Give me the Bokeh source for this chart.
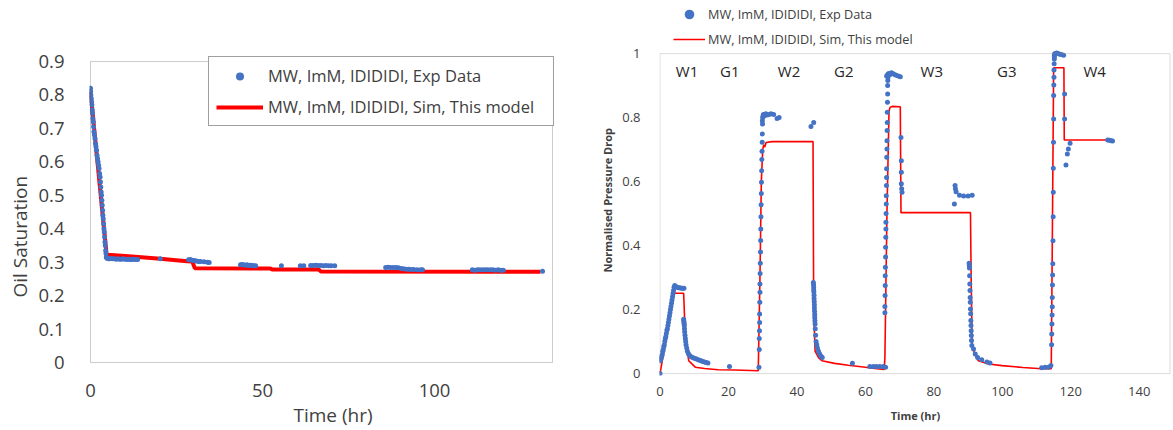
from bokeh.plotting import figure
from bokeh.layouts import row
from bokeh.models import Range1d, FixedTicker, Legend, LegendItem, BoxAnnotation, Title
from bokeh.core.properties import value
from bokeh.embed import file_html
from bokeh.resources import INLINE

# ---------------- Left panel: oil saturation ----------------
left_exp_t = [0, 0.05, 0.1, 0.2, 0.3, 0.4, 0.5, 0.6, 0.7, 0.8, 0.9, 1.0, 1.15, 1.3, 1.45, 1.6, 1.75,
              1.9, 2.05, 2.2, 2.35, 2.5, 2.65, 2.8, 2.9, 3.0, 3.1, 3.2, 3.3, 3.4, 3.5, 3.6, 3.7, 3.8,
              3.9, 4.0, 4.1, 4.2, 4.3, 4.4, 4.5, 4.6,
              4.8, 5.2, 5.6, 6.0, 6.5, 7.0, 7.5, 8.0, 8.5, 9.0, 9.5, 10, 10.5, 11, 11.5, 12, 12.5, 13, 13.7,
              20.3,
              28.5, 29, 29.5, 30, 30.5, 31, 31.5, 32, 33, 34, 34.5,
              43.6, 44, 44.5, 45, 45.5, 46, 46.5, 47, 47.5, 48,
              55.5,
              61, 62, 64, 64.7, 65.5, 66.2, 67, 67.8, 68.5, 69.3, 70, 71,
              85.8, 86.5, 87.2, 88, 88.8, 89.5, 90.3, 91, 91.8, 92.5, 93.3, 94, 95, 96, 96.5,
              111, 111.8, 112.5, 113.2, 114, 114.8, 115.5, 116.3, 117, 117.8, 118.5, 119.3, 120,
              131.4]
left_exp_s = [0.82, 0.81, 0.80, 0.79, 0.78, 0.77, 0.755, 0.745, 0.73, 0.72, 0.705, 0.69, 0.68, 0.67, 0.655,
              0.645, 0.635, 0.62, 0.61, 0.60, 0.59, 0.58, 0.565, 0.555, 0.54, 0.525, 0.51, 0.50, 0.485,
              0.47, 0.455, 0.44, 0.43, 0.415, 0.40, 0.39, 0.375, 0.36, 0.35, 0.335, 0.325, 0.315,
              0.312, 0.31, 0.31, 0.311, 0.31, 0.31, 0.309, 0.31, 0.309, 0.309, 0.31, 0.309, 0.308, 0.309,
              0.308, 0.308, 0.309, 0.308, 0.308,
              0.31,
              0.307, 0.308, 0.306, 0.305, 0.304, 0.303, 0.302, 0.302, 0.301, 0.300, 0.299,
              0.292, 0.293, 0.292, 0.291, 0.292, 0.29, 0.291, 0.29, 0.289, 0.289,
              0.289,
              0.289, 0.289, 0.29, 0.29, 0.291, 0.29, 0.29, 0.289, 0.29, 0.289, 0.289, 0.289,
              0.284, 0.285, 0.284, 0.284, 0.284, 0.283, 0.281, 0.28, 0.279, 0.279, 0.278, 0.278, 0.277,
              0.277, 0.277,
              0.277, 0.276, 0.277, 0.277, 0.277, 0.277, 0.277, 0.277, 0.277, 0.276, 0.277, 0.276, 0.276,
              0.273]
left_sim_t = [0, 4.7, 5.0, 12, 19.4, 28.1, 29.6, 30.3, 52.3, 52.8, 66.3, 67.0, 130.8]
left_sim_s = [0.81, 0.32, 0.322, 0.317, 0.311, 0.303, 0.302, 0.282, 0.281, 0.278, 0.278, 0.272, 0.271]
left_yticks = [0, 0.1, 0.2, 0.3, 0.4, 0.5, 0.6, 0.7, 0.8, 0.9]
left_xticks = [0, 50, 100]
left_xmax = 134.3
left_ymax = 0.9

# ---------------- Right panel: normalised pressure drop ----------------
right_exp_t = [0, 0.1, 0.2, 0.35, 0.5, 0.65, 0.8, 0.95, 1.1, 1.25, 1.4, 1.55, 1.7, 1.85, 2.0, 2.15, 2.3,
               2.45, 2.6, 2.75, 2.9, 3.05, 3.2, 3.35, 3.5, 3.65, 3.8, 3.95, 4.1,
               4.3, 4.6, 5.0, 5.4, 5.8, 6.2, 6.6, 7.0,
               6.9, 6.95, 7.0, 7.05, 7.1, 7.15, 7.2, 7.3, 7.4, 7.5, 7.6, 7.8, 8.0, 8.3, 8.6, 9.0, 9.5,
               10, 10.5, 11, 11.5, 12, 12.5, 13, 13.5, 14,
               20.3,
               28.9, 29.0, 29.0, 29.05, 29.1, 29.1, 29.15, 29.2, 29.2, 29.25, 29.3, 29.35, 29.4, 29.45,
               29.5, 29.55, 29.6, 29.65, 29.7, 29.75, 29.8, 29.85, 29.9, 29.95,
               29.9, 30.0, 30.1, 30.2, 30.4, 30.6, 30.9, 31.3, 31.8, 32.4, 33.2, 34.2, 34.8,
               44.1, 44.9,
               44.8, 44.85, 44.9, 44.9, 44.95, 45.0, 45.0, 45.05, 45.1, 45.1, 45.15, 45.2, 45.2, 45.25,
               45.3, 45.35, 45.45, 45.6, 45.8, 46.0, 46.3, 46.6, 47.0, 47.4,
               56.2,
               61.3, 62.3, 63.2, 64.2, 65.2, 65.9,
               65.7, 65.7, 65.75, 65.8, 65.8, 65.85, 65.9, 65.9, 65.95, 66.0, 66.0, 66.05, 66.1, 66.1,
               66.15, 66.2, 66.2, 66.25, 66.3, 66.3, 66.35, 66.4, 66.4, 66.45, 66.5, 66.5, 66.55, 66.6,
               66.2, 66.5, 66.8, 67.2, 67.6, 68.0, 68.5, 69.0, 69.6, 70.2,
               70.4, 70.5, 70.5, 70.5, 70.6, 70.7,
               86.0, 86.2, 86.3, 86.5, 87.5, 88.7, 90.0, 91.2,
               90.3, 90.35, 90.4, 90.45, 90.5, 90.55, 90.6, 90.65, 90.7, 90.75, 90.8, 90.85, 90.9,
               90.95, 91.0, 91.1, 91.6, 92.1, 92.8, 94.0, 95.5, 96.4,
               111.5, 112.5, 113.5, 114.2,
               114.4, 114.45, 114.5, 114.55, 114.6, 114.6, 114.65, 114.7, 114.75, 114.8, 114.85,
               114.9, 114.9, 114.95, 115.0, 115.0, 115.05, 115.1, 115.1, 115.15, 115.2, 115.2, 115.25,
               115.2, 115.5, 115.9, 116.3, 116.8, 117.3, 117.9,
               118.2, 118.2, 119.8, 119.3, 119.0, 118.6,
               130.8, 131.3, 131.8, 132.2]
right_exp_v = [0.0, 0.04, 0.045, 0.05, 0.055, 0.06, 0.07, 0.075, 0.085, 0.09, 0.1, 0.11, 0.115, 0.125,
               0.135, 0.14, 0.15, 0.16, 0.17, 0.18, 0.19, 0.2, 0.21, 0.22, 0.23, 0.24, 0.25, 0.26, 0.27,
               0.275, 0.272, 0.27, 0.268, 0.268, 0.267, 0.267, 0.267,
               0.17, 0.165, 0.16, 0.155, 0.15, 0.14, 0.13, 0.12, 0.11, 0.1, 0.09, 0.08, 0.07, 0.062,
               0.057, 0.053, 0.05, 0.048, 0.046, 0.044, 0.042, 0.04, 0.038, 0.036, 0.035, 0.033,
               0.022,
               0.02, 0.075, 0.11, 0.134, 0.16, 0.186, 0.223, 0.254, 0.28, 0.313, 0.345, 0.38, 0.416,
               0.452, 0.49, 0.528, 0.563, 0.598, 0.634, 0.669, 0.695, 0.723, 0.749, 0.78,
               0.79, 0.80, 0.805, 0.81, 0.805, 0.81, 0.812, 0.808, 0.81, 0.812, 0.81, 0.797, 0.80,
               0.772, 0.785,
               0.285, 0.278, 0.27, 0.262, 0.255, 0.245, 0.235, 0.225, 0.215, 0.205, 0.195, 0.185,
               0.175, 0.165, 0.155, 0.14, 0.12, 0.1, 0.09, 0.08, 0.07, 0.062, 0.055, 0.05,
               0.032,
               0.022, 0.022, 0.022, 0.022, 0.022, 0.02,
               0.19, 0.21, 0.244, 0.275, 0.306, 0.332, 0.364, 0.395, 0.426, 0.452, 0.473, 0.5, 0.53,
               0.556, 0.588, 0.613, 0.64, 0.676, 0.702, 0.728, 0.76, 0.785, 0.817, 0.848, 0.874, 0.9,
               0.916, 0.926,
               0.93, 0.935, 0.938, 0.935, 0.94, 0.938, 0.935, 0.932, 0.93, 0.928,
               0.738, 0.665, 0.629, 0.593, 0.578, 0.567,
               0.53, 0.588, 0.578, 0.568, 0.557, 0.555, 0.555, 0.557,
               0.345, 0.338, 0.33, 0.306, 0.28, 0.26, 0.238, 0.223, 0.202, 0.187, 0.166, 0.15, 0.134,
               0.119, 0.103, 0.088, 0.077, 0.061, 0.05, 0.043, 0.036, 0.033,
               0.018, 0.02, 0.02, 0.025,
               0.09, 0.124, 0.155, 0.183, 0.209, 0.238, 0.277, 0.308, 0.343, 0.415, 0.49, 0.567, 0.642,
               0.723, 0.796, 0.869, 0.902, 0.926, 0.949, 0.968, 0.983, 0.994, 0.999,
               0.99, 1.0, 1.002, 1.0, 0.998, 0.997, 0.995,
               0.874, 0.796, 0.72, 0.702, 0.686, 0.652,
               0.73, 0.729, 0.728, 0.727]
right_sim_t = [0, 4.1, 4.3, 6.9, 7.4, 8.4, 10.3, 13, 17, 22, 28.7, 29.2, 29.6, 30.0, 30.3, 30.6, 31.0,
               32.7, 44.7, 44.9, 45.3, 46.3, 47.3, 51, 55, 60, 63.4, 65.5, 65.7, 66.3, 66.9, 67.2, 67.8,
               70.2, 70.4, 90.7, 90.9, 91.2, 91.8, 93, 96, 99.9, 106, 111.5, 114.3, 114.6, 115.0,
               118.0, 118.1, 131.5]
right_sim_v = [0, 0.249, 0.251, 0.251, 0.113, 0.04, 0.02, 0.016, 0.012, 0.011, 0.009, 0.3, 0.6, 0.70,
               0.715, 0.708, 0.722, 0.725, 0.725, 0.2, 0.07, 0.05, 0.04, 0.032, 0.026, 0.02, 0.015,
               0.013, 0.05, 0.5, 0.82, 0.832, 0.835, 0.834, 0.503, 0.503, 0.3, 0.094, 0.065, 0.04,
               0.03, 0.025, 0.019, 0.015, 0.015, 0.4, 0.956, 0.956, 0.73, 0.73]
phase_labels = ["W1", "G1", "W2", "G2", "W3", "G3", "W4"]
phase_t = [7.9, 20.4, 37.7, 53.7, 79.4, 101.3, 127.0]
phase_v = [0.945, 0.945, 0.945, 0.945, 0.945, 0.945, 0.945]
right_yticks = [0, 0.2, 0.4, 0.6, 0.8, 1.0]
right_xticks = [0, 20, 40, 60, 80, 100, 120, 140]
right_xmax = 149
right_ymax = 1.0

BLUE = "#4472C4"
RED = "#FF0000"
TXT = "#404040"
FONT = "Open Sans"

exp_label = "MW, ImM, IDIDIDI, Exp Data"
sim_label = "MW, ImM, IDIDIDI, Sim, This model"

# Both frames span the full figure height (the row aligns frames); each plot box is
# drawn at its data limits with a BoxAnnotation.

# ---------- left figure ----------
p1 = figure(width=585, height=430, output_backend="svg", toolbar_location=None,
            x_range=Range1d(-0.29, 134.88), y_range=Range1d(-0.0389, 1.0825),
            min_border_left=89, min_border_right=31, min_border_top=0, min_border_bottom=55)
p1.xgrid.visible = False
p1.ygrid.visible = False
p1.outline_line_color = None
p1.add_layout(BoxAnnotation(left=0, right=left_xmax, bottom=0, top=left_ymax,
                            fill_alpha=0, line_color="#595959", line_width=1))

r1s = p1.line(left_sim_t, left_sim_s, line_color=RED, line_width=4)
r1e = p1.scatter(left_exp_t, left_exp_s, size=5, color=BLUE, line_width=0)

p1.xaxis.ticker = FixedTicker(ticks=left_xticks)
p1.yaxis.ticker = FixedTicker(ticks=left_yticks)
p1.yaxis.major_label_overrides = {0: "0"}
for ax in (p1.xaxis[0], p1.yaxis[0]):
    ax.axis_line_color = None
    ax.major_tick_line_color = None
    ax.minor_tick_line_color = None
    ax.major_label_text_font = FONT
    ax.major_label_text_font_size = "18.5px"
    ax.major_label_text_color = TXT
p1.xaxis.major_label_standoff = 2
p1.yaxis.major_label_standoff = 19

# axis titles as side-panel titles so they can sit where the reference has them
p1.add_layout(Title(text="Oil Saturation", align="left", offset=78, standoff=6,
                    text_font=FONT, text_font_size="19px", text_font_style="normal",
                    text_color=TXT), "left")
p1.add_layout(Title(text="Time (hr)", align="left", offset=204, standoff=0,
                    text_font=FONT, text_font_size="19px", text_font_style="normal",
                    text_color=TXT), "below")

leg1 = Legend(items=[LegendItem(label=exp_label, renderers=[r1e]),
                     LegendItem(label=sim_label, renderers=[r1s])],
              location=(119, 249), margin=0, padding=7, spacing=8,
              glyph_width=47, glyph_height=20, label_height=20, label_standoff=5, label_width=278,
              label_text_font=FONT, label_text_font_size="16.5px", label_text_color=TXT,
              border_line_color="#404040", border_line_width=1, background_fill_color="white")
p1.add_layout(leg1)

# ---------- right figure ----------
p2 = figure(width=588, height=430, output_backend="svg", toolbar_location=None,
            x_range=Range1d(-0.15, 149.43), y_range=Range1d(-0.006, 1.166),
            min_border_left=74, min_border_right=2, min_border_top=0, min_border_bottom=55)
p2.xgrid.visible = False
p2.ygrid.visible = False
p2.outline_line_color = None
p2.add_layout(BoxAnnotation(left=0, right=right_xmax, bottom=0, top=right_ymax,
                            fill_alpha=0, line_color="#8c8c8c", line_width=1))

r2s = p2.line(right_sim_t, right_sim_v, line_color=RED, line_width=1.6)
r2e = p2.scatter(right_exp_t, right_exp_v, size=5, color=BLUE, line_width=0)
p2.text(x=phase_t, y=phase_v, text=phase_labels, text_font=value(FONT), text_font_size="15px",
        text_color="#262626", text_align="center", text_baseline="middle")

p2.xaxis.ticker = FixedTicker(ticks=right_xticks)
p2.yaxis.ticker = FixedTicker(ticks=right_yticks)
p2.yaxis.major_label_overrides = {0: "0", 1: "1"}
for ax in (p2.xaxis[0], p2.yaxis[0]):
    ax.axis_line_color = None
    ax.major_tick_line_color = None
    ax.minor_tick_line_color = None
    ax.major_label_text_font = FONT
    ax.major_label_text_font_size = "13px"
    ax.major_label_text_color = TXT
    ax.axis_label_text_font = FONT
    ax.axis_label_text_font_size = "11px"
    ax.axis_label_text_font_style = "bold"
    ax.axis_label_text_color = TXT
p2.xaxis.major_label_standoff = 5
p2.yaxis.major_label_standoff = 13
p2.xaxis.axis_label = "Time (hr)"
p2.xaxis.axis_label_standoff = 9
p2.add_layout(Title(text="Normalised Pressure Drop", align="left", offset=103, standoff=10,
                    text_font=FONT, text_font_size="11px", text_font_style="bold",
                    text_color=TXT), "left")

leg2 = Legend(items=[LegendItem(label=exp_label, renderers=[r2e]),
                     LegendItem(label=sim_label, renderers=[r2s])],
              location=(14, 324), margin=0, padding=0, spacing=1,
              glyph_width=32, glyph_height=24, label_height=24, label_standoff=3,
              label_text_font=FONT, label_text_font_size="12.7px", label_text_color=TXT,
              border_line_color=None, background_fill_alpha=0)
p2.add_layout(leg2)

layout = row(p1, p2)
open("out.html", "w").write(file_html(layout, INLINE))
